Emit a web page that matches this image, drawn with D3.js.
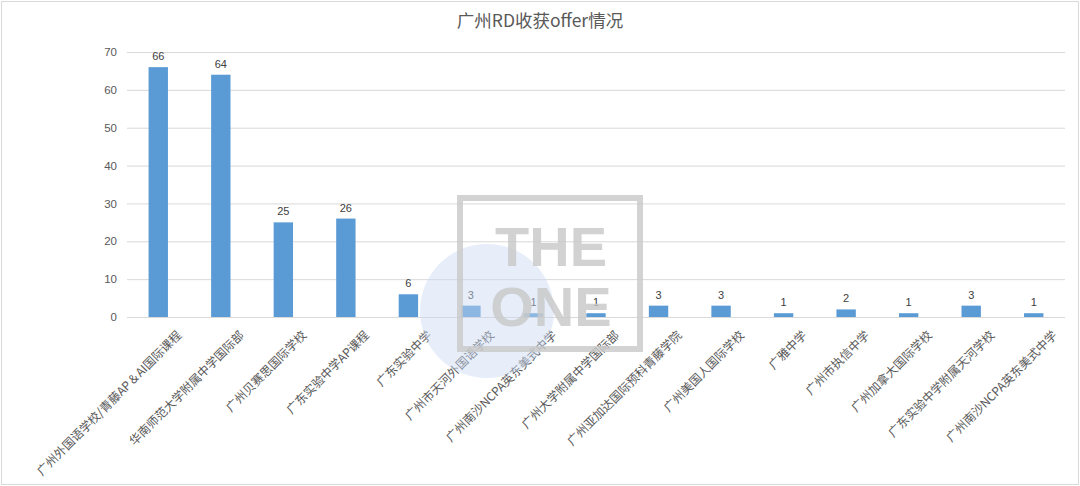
<!DOCTYPE html>
<html><head><meta charset="utf-8">
<script src="https://cdn.jsdelivr.net/npm/d3@7"></script>
<style>body{margin:0;background:#fff}svg{display:block}</style>
</head><body><svg id="c" width="1080" height="486"></svg>
<script>
const categories = ["广州外国语学校/青藤AP＆AI国际课程","华南师范大学附属中学国际部","广州贝赛思国际学校","广东实验中学AP课程","广东实验中学","广州市天河外国语学校","广州南沙NCPA英东美式中学","广州大学附属中学国际部","广州亚加达国际预科青藤学院","广州美国人国际学校","广雅中学","广州市执信中学","广州加拿大国际学校","广东实验中学附属天河学校","广州南沙NCPA英东美式中学 "];
const values = [66,64,25,26,6,3,1,1,3,3,1,2,1,3,1];
const yTicks = [0,10,20,30,40,50,60,70];
const title = "广州RD收获offer情况";

const svg = d3.select("#c");
const W = 1080, H = 486;
const m = {l:127, r:15, t:52, b:169};
const font = "'Noto Sans CJK SC','Noto Sans',sans-serif";

svg.append("rect").attr("x",1.5).attr("y",1.5).attr("width",W-3).attr("height",H-3)
  .attr("fill","#fff").attr("stroke","#d9d9d9").attr("stroke-width",1);

const x = d3.scaleBand().domain(categories).range([m.l, W-m.r]).paddingInner(0.69).paddingOuter(0.345);
const y = d3.scaleLinear().domain([0,70]).range([H-m.b, m.t]);

svg.append("g").selectAll("line").data(yTicks).join("line")
  .attr("x1",m.l).attr("x2",W-m.r).attr("y1",d=>y(d)+0.5).attr("y2",d=>y(d)+0.5)
  .attr("stroke","#d9d9d9").attr("stroke-width",1);

const ya = svg.append("g").attr("transform",`translate(${m.l-10},0)`)
  .call(d3.axisLeft(y).tickValues(yTicks).tickSize(0).tickPadding(0));
ya.select(".domain").remove();
ya.selectAll("text").attr("fill","#595959").style("font-size","11.5px").style("font-family","'Liberation Sans',sans-serif");

svg.append("g").selectAll("rect").data(values).join("rect")
  .attr("x",(d,i)=>x(categories[i])).attr("width",x.bandwidth())
  .attr("y",d=>y(d)).attr("height",d=>y(0)-y(d)).attr("fill","#5B9BD5");

svg.append("g").selectAll("text").data(values).join("text")
  .attr("x",(d,i)=>x(categories[i])+x.bandwidth()/2).attr("y",d=>y(d)-7)
  .attr("text-anchor","middle").attr("fill","#404040")
  .style("font-size","11px").style("font-family","'Liberation Sans',sans-serif").text(d=>d);

const xa = svg.append("g").attr("transform",`translate(0,${y(0)})`)
  .call(d3.axisBottom(x).tickSize(0).tickPadding(0));
xa.select(".domain").remove();
xa.selectAll("text")
  .attr("fill","#595959").style("font-size","12px").style("font-family",font)
  .attr("text-anchor","end").attr("dy",null).attr("y",null)
  .attr("transform","translate(24,19) rotate(-45)");

svg.append("text").attr("x",W/2).attr("y",27).attr("text-anchor","middle")
  .attr("fill","#595959").style("font-size","17.5px").style("font-family",font).text(title);

const wm = svg.append("g").attr("pointer-events","none");
wm.append("circle").attr("cx",487).attr("cy",311).attr("r",67).attr("fill","#c9daf5").attr("opacity",0.45);
wm.append("rect").attr("x",460).attr("y",198).attr("width",180).attr("height",151)
  .attr("fill","none").attr("stroke","#c8c8c8").attr("stroke-width",6).attr("opacity",0.8);
wm.append("text").attr("x",551).attr("y",266).attr("text-anchor","middle").attr("fill","#c8c8c8").attr("opacity",0.8)
  .style("font-size","56px").style("font-weight","bold").style("font-family","'Liberation Sans',sans-serif").text("THE");
wm.append("text").attr("x",551).attr("y",326).attr("text-anchor","middle").attr("fill","#c8c8c8").attr("opacity",0.8)
  .style("font-size","56px").style("font-weight","bold").style("font-family","'Liberation Sans',sans-serif").text("ONE");
</script></body></html>
